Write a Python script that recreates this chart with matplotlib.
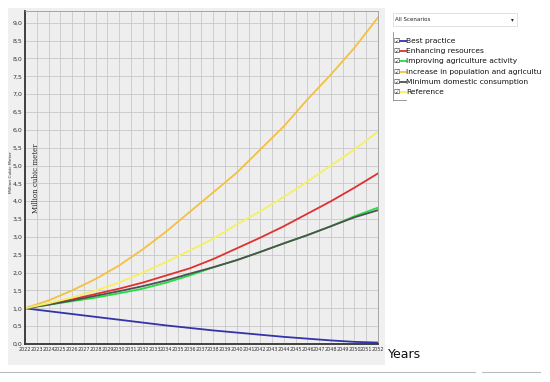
import matplotlib
matplotlib.use('Agg')
from matplotlib import pyplot as plt
from matplotlib.patches import Rectangle
from matplotlib.lines import Line2D

#data (every 2 years)
years = [2022, 2024, 2026, 2028, 2030, 2032, 2034, 2036, 2038, 2040, 2042, 2044, 2046, 2048, 2050, 2052]
best = [1.0, 0.92, 0.84, 0.76, 0.68, 0.60, 0.52, 0.45, 0.38, 0.32, 0.26, 0.20, 0.15, 0.10, 0.06, 0.04]
enhancing = [1.0, 1.12, 1.25, 1.40, 1.55, 1.72, 1.92, 2.12, 2.38, 2.68, 2.98, 3.30, 3.65, 4.00, 4.38, 4.78]
agriculture = [1.0, 1.10, 1.20, 1.30, 1.42, 1.55, 1.72, 1.92, 2.15, 2.35, 2.58, 2.82, 3.05, 3.30, 3.58, 3.82]
population = [1.0, 1.22, 1.50, 1.82, 2.20, 2.65, 3.15, 3.70, 4.25, 4.80, 5.45, 6.10, 6.85, 7.55, 8.30, 9.15]
minimum = [1.0, 1.10, 1.22, 1.35, 1.48, 1.62, 1.78, 1.97, 2.15, 2.35, 2.58, 2.82, 3.05, 3.30, 3.55, 3.75]
reference = [1.0, 1.14, 1.30, 1.50, 1.72, 2.00, 2.30, 2.62, 2.95, 3.35, 3.72, 4.12, 4.55, 5.00, 5.45, 5.95]

names = ['Best practice', 'Enhancing resources', 'Improving agriculture activity',
         'Increase in population and agricultu', 'Minimum domestic consumption', 'Reference']
colors = ['#3333aa', '#e03030', '#22dd44', '#f5c040', '#505050', '#f5f060']
series = [best, enhancing, agriculture, population, minimum, reference]

W, H = 550, 382
fig = plt.figure(figsize=(5.5, 3.82), dpi=100)
fig.patch.set_facecolor('white')

#grey panel behind the chart
fig.patches.append(Rectangle((8/W, 1-365/H), 377/W, 357/H, transform=fig.transFigure,
                             facecolor='#f0f0f0', edgecolor='none', zorder=-5))

ax = fig.add_axes([25/W, 1-344/H, 353/W, 333/H])
ax.set_facecolor('#eeeeee')
for s, c, n in zip(series, colors, names):
    ax.plot(years, s, color=c, lw=1.3, label=n)

ax.set_xlim(2022, 2052)
ax.set_ylim(0, 9.33)
ax.set_xticks(range(2022, 2053))
ax.set_xticklabels([str(y) for y in range(2022, 2053)], fontsize=3.5, color='#333333')
yt = [i*0.5 for i in range(19)]
ax.set_yticks(yt)
ax.set_yticklabels([('%.1f' % v).replace('.', ',') for v in yt], fontsize=4.5, color='#333333')
ax.tick_params(length=0, pad=2)
ax.grid(True, color='#c8c8c8', lw=0.6)
ax.set_axisbelow(True)
for sp in ['left', 'bottom']:
    ax.spines[sp].set_linewidth(1.3)
    ax.spines[sp].set_color('#333333')
for sp in ['top', 'right']:
    ax.spines[sp].set_color('#999999')
    ax.spines[sp].set_linewidth(0.6)

#axis titles
fig.text(11/W, 1-172/H, 'Million Cubic Meter', rotation=90, fontsize=3.2, color='#333333',
         ha='center', va='center')
fig.text(36/W, 1-178/H, 'Million cubic meter', rotation=90, fontsize=5, color='#222222',
         family='DejaVu Serif', ha='center', va='center')
fig.text(388/W, 1-355/H, 'Years', fontsize=9, color='#111111', ha='left', va='center')

#dropdown box
fig.patches.append(Rectangle((393/W, 1-26/H), 124/W, 13/H, transform=fig.transFigure,
                             facecolor='white', edgecolor='#dddddd', lw=0.6))
fig.text(395/W, 1-19.5/H, 'All Scenarios', fontsize=4, color='#222222', va='center')
fig.text(512/W, 1-19.5/H, '\u25be', fontsize=4, color='#222222', va='center', ha='center')

#legend rows: checkbox, colour stroke, name
for i, (c, n) in enumerate(zip(colors, names)):
    yy = 1 - (41 + 10.2*i)/H
    fig.text(397/W, yy, '\u2611', fontsize=5, color='#333333', ha='center', va='center')
    fig.lines.append(Line2D([400/W, 405.5/W], [yy, yy], transform=fig.transFigure,
                            color=c, lw=1.3))
    fig.text(406.5/W, yy, n, fontsize=5.4, color='#111111', ha='left', va='center')
fig.lines.append(Line2D([393/W, 393/W], [1-32/H, 1-100/H], transform=fig.transFigure,
                        color='#888888', lw=0.6))
fig.lines.append(Line2D([393/W, 406/W], [1-100/H, 1-100/H], transform=fig.transFigure,
                        color='#888888', lw=0.6))

#bottom separator lines
fig.lines.append(Line2D([0, 475/W], [1-372/H, 1-372/H], transform=fig.transFigure,
                        color='#bbbbbb', lw=0.8))
fig.lines.append(Line2D([482/W, 540/W], [1-372/H, 1-372/H], transform=fig.transFigure,
                        color='#bbbbbb', lw=0.8))

fig.savefig('out.png', dpi=100)
